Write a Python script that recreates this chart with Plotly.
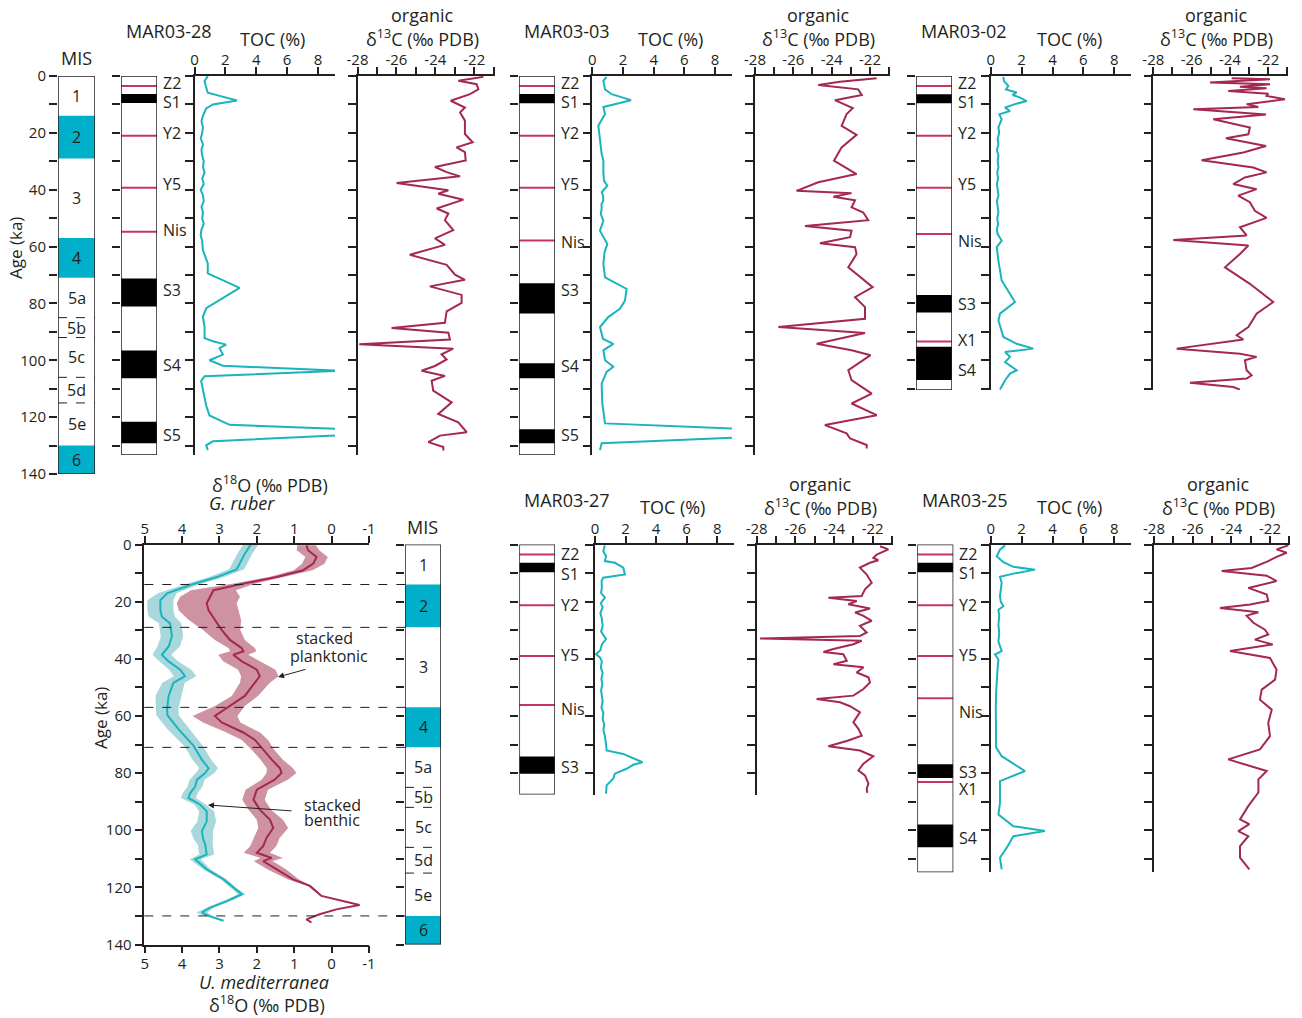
import plotly.graph_objects as go

# ======================= DATA =======================
mis_bounds = [0, 14, 29, 57, 71, 85, 92, 106, 115, 130, 140]
mis_labels = ["1", "2", "3", "4", "5a", "5b", "5c", "5d", "5e", "6"]
mis_glacial = [False, True, False, True, False, False, False, False, False, True]
mis_substage = [False, False, False, False, True, True, True, True, True, False]

benthic_age = [0, 3.2, 8.7, 11.4, 14.2, 17.1, 19.5, 23, 25.3, 27.6, 32.2, 35.7, 38.6, 40.9, 43.8, 46.1,
               48.4, 53, 57.7, 59.8, 64.7, 70.5, 75.3, 78.3, 80, 82.3, 84.7, 87, 88.7, 91, 93.4, 96.9,
               100.3, 103.3, 105, 108.5, 110.2, 113.7, 117.2, 120.1, 122.4, 124.8, 127.1, 128.8, 130, 131.7]
benthic_d18o = [2.16, 2.32, 2.54, 3.07, 3.78, 4.40, 4.58, 4.58, 4.54, 4.32, 4.27, 4.36, 4.54, 4.36, 4.05, 3.92,
                4.23, 4.36, 4.40, 4.39, 4.09, 3.69, 3.47, 3.29, 3.38, 3.60, 3.65, 3.78, 3.83, 3.52, 3.34, 3.34,
                3.47, 3.43, 3.38, 3.34, 3.65, 3.34, 2.89, 2.63, 2.40, 2.80, 3.25, 3.47, 3.29, 2.89]
benthic_err = [0.2, 0.2, 0.2, 0.2, 0.2, 0.25, 0.35, 0.35, 0.35, 0.3, 0.3, 0.3, 0.25, 0.25, 0.3, 0.3,
               0.3, 0.35, 0.3, 0.3, 0.3, 0.25, 0.25, 0.25, 0.25, 0.2, 0.2, 0.2, 0.2, 0.15, 0.2, 0.25,
               0.3, 0.25, 0.2, 0.2, 0.15, 0.1, 0.08, 0.08, 0.1, 0.1, 0.1, 0.15, 0.1, 0.05]

planktonic_age = [0.3, 2, 4.4, 6.7, 9, 11.4, 13.7, 16, 18.3, 20.6, 23, 26.4, 29.9, 33.4, 36.3, 37.4, 38.6,
                  40.9, 43.8, 46.1, 48.4, 53, 56.5, 60, 62.3, 65.8, 68.4, 71.9, 75.3, 78.3, 80, 82.3, 85.8,
                  89.3, 92.8, 96.3, 99.2, 102.7, 105.6, 107.9, 109.7, 110.8, 113.7, 117.2, 119.5, 123, 126.2,
                  127.7, 129.4, 131.2, 132.3]
planktonic_d18o = [0.67, 0.63, 0.40, 0.49, 0.76, 1.47, 2.36, 3.16, 3.25, 3.34, 3.29, 3.12, 2.94, 2.72, 2.40, 2.36,
                   2.63, 2.40, 2.0, 1.92, 2.05, 2.32, 2.72, 3.12, 2.94, 2.36, 2.05, 1.83, 1.60, 1.38, 1.34, 1.52,
                   2.0, 2.09, 1.92, 1.65, 1.56, 1.74, 1.83, 2.0, 1.60, 1.83, 1.47, 1.03, 0.58, 0.27, -0.75,
                   -0.13, 0.32, 0.67, 0.54]
planktonic_err = [0.25, 0.3, 0.3, 0.3, 0.25, 0.2, 0.3, 0.6, 0.8, 0.8, 0.8, 0.7, 0.5, 0.4, 0.35, 0.35, 0.4,
                  0.5, 0.5, 0.5, 0.4, 0.35, 0.4, 0.6, 0.5, 0.45, 0.35, 0.3, 0.3, 0.35, 0.4, 0.35, 0.3,
                  0.3, 0.3, 0.35, 0.4, 0.35, 0.35, 0.35, 0.3, 0.25, 0.25, 0.15, 0.05, 0.03, 0.03,
                  0.03, 0.03, 0.03, 0.03]

# ---- MAR03-28 ----
mar28_toc_age = [0, 1.8, 4.1, 5.9, 7.0, 8.6, 10, 11.4, 14.1, 16, 18, 20, 22, 24, 26, 28, 30, 32, 34, 36, 38, 40,
                 42, 44, 46, 48, 50, 52, 54, 56, 58, 61.2, 65.9, 69.4, 74.5, 78.8, 81.7, 84.7, 88.1, 92.2, 93.3,
                 94.5, 95.7, 98, 100, 101.9, 103.7, 105.6, 107.3, 116, 119.4, 122.7, 124.1, 126.4, 128.5, 129.9, 131.6]
mar28_toc = [0.86, 0.65, 0.76, 0.86, 1.62, 2.75, 1.19, 0.76, 0.54, 0.45, 0.55, 0.5, 0.4, 0.55, 0.45, 0.5, 0.6,
             0.55, 0.65, 0.5, 0.6, 0.4, 0.55, 0.6, 0.45, 0.55, 0.5, 0.6, 0.45, 0.4, 0.5, 0.54, 0.86, 0.86, 2.92,
             1.62, 0.76, 0.54, 0.65, 0.65, 1.19, 2.05, 1.62, 1.84, 0.97, 1.84, 9.4, 0.65, 0.43, 0.76, 0.97, 2.27,
             9.4, 9.4, 1.19, 0.76, 0.86]
mar28_d13c_age = [0.3, 0.8, 1.7, 2.9, 4.7, 6.4, 8.7, 11.1, 12.8, 15.7, 20.4, 23.3, 25.1, 26.8, 29.7, 32, 33.8,
                  35.3, 37.6, 40.2, 41.4, 43.5, 46.6, 48.4, 50.7, 54.2, 57.1, 59.4, 62.9, 66.4, 69.9, 71.7, 74.0,
                  77, 79.8, 82.8, 86.8, 88.6, 90.3, 92.7, 94.4, 95.9, 97.9, 99.7, 102, 103.7, 105.5, 107.2, 110.7,
                  114.8, 118.9, 121.8, 125.3, 126.5, 128.8, 130.5, 131.7]
mar28_d13c = [-21.53, -21.96, -22.82, -21.88, -21.79, -22.22, -23.21, -22.48, -22.73, -22.48, -22.48, -22.08,
              -22.91, -22.48, -22.44, -24.02, -23.42, -22.73, -25.99, -23.33, -23.85, -22.56, -23.93, -23.33,
              -23.51, -23.08, -24.02, -23.51, -25.31, -23.42, -22.99, -22.48, -24.28, -22.65, -22.65, -23.42,
              -23.51, -26.25, -23.33, -23.25, -27.91, -23.08, -23.68, -23.42, -24.02, -24.71, -23.51, -24.19,
              -24.11, -23.16, -23.85, -22.82, -22.39, -23.76, -24.36, -23.59, -23.59]
mar28_tephra = [("Z2", 3.5, 2.5), ("Y2", 21.0, 20.0), ("Y5", 39.3, 38.0), ("Nis", 54.8, 54.2)]
mar28_sapropel = [("S1", 6.3, 9.5, 9.1), ("S3", 71.2, 81.1, 75.3), ("S4", 96.6, 106.3, 101.7), ("S5", 121.6, 129.2, 126.3)]
mar28_bottom = 133.3

# ---- MAR03-03 ----
mar03_toc_age = [0.3, 1.7, 4.7, 6.4, 8.5, 10.9, 13.4, 17.5, 20, 22.8, 25, 27, 29.8, 32, 34, 36.8, 38.6, 40.9, 42,
                 43.9, 45, 46.8, 48.5, 50.9, 52.5, 54.4, 59.1, 62, 66.1, 70.8, 74.9, 79, 81.9, 84.8, 88.3, 90.6,
                 92.5, 94.2, 96.5, 100, 102.3, 104.1, 108.2, 115, 122.2, 124.1, 127.2, 129.2, 131.6]
mar03_toc = [0.93, 0.72, 0.83, 1.26, 2.52, 0.72, 0.83, 0.39, 0.45, 0.50, 0.55, 0.6, 0.72, 0.7, 0.72, 0.76, 0.98,
             0.61, 0.7, 0.72, 0.6, 0.61, 0.55, 0.72, 0.6, 0.50, 0.98, 0.8, 0.72, 0.83, 2.24, 2.13, 1.80, 1.04, 0.50,
             0.61, 0.7, 1.37, 0.72, 0.83, 1.37, 0.93, 0.61, 0.65, 0.83, 9.4, 9.4, 0.61, 0.50]
mar03_d13c_age = [0.8, 2, 3.2, 4.7, 6.7, 8.5, 11.3, 13.4, 17.5, 20.7, 25.1, 29.8, 34.5, 37.4, 40.4, 41.2, 42.5,
                  43.7, 46.2, 48, 50.7, 52.8, 54.4, 56.7, 58.8, 60.2, 62.6, 67.3, 74.3, 77.8, 81.3, 85.4, 88.3,
                  90.4, 94.2, 96.5, 98.2, 103.5, 107, 111.7, 115.2, 119.3, 122.8, 125.7, 127.5, 129.8, 131]
mar03_d13c = [-21.65, -23.57, -24.70, -22.61, -22.43, -23.83, -22.90, -23.22, -23.48, -22.70, -23.48, -23.88,
              -22.70, -24.70, -25.83, -22.96, -23.91, -22.78, -22.96, -22.35, -22.09, -25.39, -22.96, -23.04,
              -24.61, -22.78, -22.70, -23.13, -21.86, -22.78, -22.26, -22.26, -26.78, -22.26, -24.78, -22.96,
              -21.97, -23.13, -22.96, -21.91, -22.96, -21.65, -24.35, -23.22, -23.04, -22.17, -22.17]
mar03_tephra = [("Z2", 3.5, 2.5), ("Y2", 21.0, 20.0), ("Y5", 39.3, 38.0), ("Nis", 57.9, 58.5)]
mar03_sapropel = [("S1", 6.3, 9.6, 9.1), ("S3", 72.9, 83.5, 75.3), ("S4", 101.0, 106.3, 102.0), ("S5", 124.3, 129.2, 126.3)]
mar03_bottom = 133.3

# ---- MAR03-02 ----
mar02_toc_age = [0.3, 1.8, 3.5, 4.7, 5.8, 6.6, 7.6, 8.8, 9.9, 11.1, 12.3, 13.5, 15.2, 18.1, 20, 22, 24, 26, 28,
                 30, 32, 34, 36, 38, 40, 42, 44, 46, 48, 50, 52, 54, 55.6, 57.9, 60.2, 65, 71.9, 79.5, 83.6, 86,
                 91.8, 94.2, 95.9, 97.1, 98.8, 100.6, 103.5, 104.7, 107, 110.3]
mar02_toc = [0.82, 0.86, 1.14, 0.99, 1.68, 1.42, 1.90, 2.33, 1.57, 0.93, 1.25, 0.56, 0.71, 0.50, 0.55, 0.45, 0.5,
             0.4, 0.5, 0.45, 0.5, 0.42, 0.48, 0.4, 0.45, 0.5, 0.4, 0.45, 0.5, 0.42, 0.48, 0.4, 0.45, 0.71, 0.39,
             0.5, 0.71, 1.57, 0.60, 0.50, 0.82, 1.68, 2.76, 0.93, 1.25, 0.93, 1.68, 1.25, 0.93, 0.60]
mar02_d13c_age = [0.8, 1.1, 2.3, 2.9, 3.8, 4.3, 5.3, 6.2, 7.0, 8.2, 9.9, 10.9, 11.7, 13.5, 15.2, 18.1, 20.5, 21.9,
                  24.6, 26.9, 29.6, 32.2, 33.9, 35.7, 38, 39.8, 42.1, 44.4, 47.4, 49.9, 53.2, 56.1, 57.7, 59.6,
                  62.6, 67.3, 73.1, 79.5, 83.6, 88.3, 91.2, 92.7, 95.9, 97.7, 98.8, 100, 103.5, 105.3, 106.4,
                  107.9, 109.4, 110.3]
mar02_d13c = [-23.91, -21.91, -25.04, -21.91, -23.48, -22.09, -24.09, -22.0, -22.09, -21.13, -23.13, -22.52,
              -25.91, -22.12, -24.87, -22.96, -23.04, -24.21, -22.12, -23.30, -25.48, -22.78, -22.09, -23.22,
              -23.83, -22.61, -23.57, -22.96, -22.70, -22.09, -23.48, -23.13, -26.96, -23.04, -23.48, -24.26,
              -22.96, -21.74, -22.61, -23.04, -23.65, -23.30, -26.78, -23.48, -22.61, -23.22, -23.13, -22.87,
              -23.13, -26.09, -23.83, -23.48]
mar02_tephra = [("Z2", 3.5, 2.5), ("Y2", 21.0, 20.0), ("Y5", 39.3, 38.0), ("Nis", 55.6, 58.0), ("X1", 93.4, 92.9)]
mar02_sapropel = [("S1", 6.4, 9.6, 9.1), ("S3", 77.0, 83.2, 80.2), ("S4", 95.2, 106.9, 103.4)]
mar02_bottom = 110.45

# ---- MAR03-27 ----
mar27_toc_age = [0.3, 2.3, 4.1, 5.8, 6.4, 8.1, 10.5, 11.6, 12.8, 15, 17, 18.6, 20.5, 22, 24, 26, 28.5, 30.5,
                 33.1, 35, 37, 38.4, 39.5, 41, 43, 45, 47, 49, 51, 53, 55, 57, 59, 61, 63, 65, 67, 69.8, 72.1,
                 73.3, 76.2, 77.1, 78.5, 80.2, 81.9, 84.3, 87.2]
mar27_toc = [0.65, 0.54, 0.72, 0.65, 1.30, 1.85, 1.96, 0.54, 0.43, 0.45, 0.4, 0.65, 0.38, 0.5, 0.35, 0.45, 0.5,
             0.4, 0.72, 0.45, 0.35, 0.07, 0.33, 0.45, 0.38, 0.5, 0.42, 0.48, 0.4, 0.45, 0.5, 0.42, 0.55, 0.5,
             0.6, 0.55, 0.65, 0.72, 0.76, 1.85, 3.11, 2.5, 2.07, 1.30, 1.20, 0.76, 0.72]
mar27_d13c_age = [0.6, 1.7, 3.5, 4.7, 5.5, 6.4, 8.1, 10.5, 13.4, 15.7, 18, 18.6, 19.8, 20.9, 22.4, 23.8, 25,
                  26.7, 28.5, 30.8, 32, 32.9, 33.7, 34.9, 36.6, 37.6, 38.4, 40.7, 41.9, 43, 44.8, 46.5, 48.3,
                  50.6, 52.9, 54.1, 55.2, 56.6, 58.7, 62.2, 64.5, 66.9, 68.6, 70.6, 72.1, 74.1, 76.7, 79.1, 80.8,
                  83.7, 85.5, 86.9]
mar27_d13c = [-21.62, -21.19, -21.79, -21.97, -21.71, -22.14, -22.66, -22.31, -22.05, -22.40, -22.57, -24.29,
              -22.83, -23.26, -22.14, -22.91, -22.48, -22.05, -22.66, -22.31, -22.66, -27.83, -22.57, -23.0,
              -24.03, -24.55, -23.52, -23.34, -24.03, -22.48, -22.83, -22.22, -22.14, -22.48, -23.0, -24.90,
              -23.69, -23.17, -22.66, -23.0, -22.74, -22.57, -23.26, -24.29, -22.66, -21.97, -22.48, -22.74,
              -22.40, -22.22, -22.31, -22.28]
mar27_tephra = [("Z2", 3.5, 3.2), ("Y2", 21.3, 21.0), ("Y5", 39.0, 38.5), ("Nis", 56.2, 57.4)]
mar27_sapropel = [("S1", 6.4, 9.7, 10.2), ("S3", 74.2, 80.2, 78.0)]
mar27_bottom = 87.5

# ---- MAR03-25 ----
mar25_toc_age = [0.3, 1.8, 4.1, 6.2, 7.8, 8.8, 10.2, 11.3, 13.4, 16, 18.1, 20, 21.6, 22.8, 25, 28, 31, 34, 37.3,
                 38.5, 40.3, 43, 47.3, 52, 57, 62, 67, 71, 74.1, 79.3, 82.8, 90.4, 94.5, 98.6, 100.3, 102.1,
                 106.2, 109.6, 113.7]
mar25_toc = [0.93, 0.60, 0.39, 0.82, 1.47, 2.87, 1.47, 0.60, 0.71, 0.65, 0.60, 0.65, 0.82, 0.50, 0.55, 0.5, 0.55,
             0.5, 0.71, 0.28, 0.50, 0.45, 0.39, 0.35, 0.33, 0.35, 0.33, 0.35, 0.71, 2.22, 0.60, 0.60, 0.50, 1.47,
             3.51, 1.47, 1.03, 0.60, 0.71]
mar25_d13c_age = [0.3, 1.7, 2.9, 4.3, 5.8, 8.2, 9.3, 10.9, 12.8, 15.2, 17.5, 19.8, 21, 22.2, 23.7, 24.9, 27.4,
                  29.8, 31.5, 33.3, 35, 37.3, 39.7, 43.8, 47.3, 50.8, 54.3, 57.8, 62.4, 67.1, 71.7, 75.2, 79.3,
                  82.2, 86.8, 91.5, 96.2, 97.9, 100.3, 102.1, 105.6, 109.6, 113.7]
mar25_d13c = [-21.05, -21.66, -21.14, -21.66, -22.09, -22.95, -24.50, -22.17, -21.66, -23.12, -22.17, -22.09,
              -23.03, -24.59, -22.60, -23.21, -22.86, -22.26, -22.09, -22.78, -21.86, -24.07, -22.0, -21.66,
              -21.74, -22.43, -22.52, -21.91, -22.09, -22.0, -22.52, -24.16, -22.17, -22.60, -22.60, -23.12,
              -23.55, -23.07, -23.64, -23.12, -23.55, -23.55, -23.07]
mar25_tephra = [("Z2", 3.5, 3.2), ("Y2", 21.3, 21.0), ("Y5", 39.0, 38.5), ("Nis", 53.8, 58.5), ("X1", 83.1, 85.4)]
mar25_sapropel = [("S1", 6.4, 9.7, 9.8), ("S3", 76.9, 81.7, 79.5), ("S4", 98.0, 106.0, 102.6)]
mar25_bottom = 114.7

toc_ticks = [0, 2, 4, 6, 8]
d13c_ticks = [-28, -26, -24, -22]
d13c_minor = [-27, -25, -23, -21]
d18o_ticks = [5, 4, 3, 2, 1, 0, -1]

# ======================= STYLE / LAYOUT =======================
W, H = 1302, 1018
FONT = "Open Sans"
INK = "#231F20"
TEAL = "#1AB4BC"
CRIMSON = "#A4284F"
MIS_FILL = "#00B0CA"
TEPHRA = "#C4365F"
BAND_TEAL = "#A9D8DC"
BAND_RED = "#CF92A2"

layout = dict(width=W, height=H, margin=dict(l=0, r=0, t=0, b=0, autoexpand=False), showlegend=False,
              paper_bgcolor="white", plot_bgcolor="rgba(0,0,0,0)", font=dict(family=FONT, color=INK))
shapes, annotations, traces = [], [], []
count = [0]


def base_axis():
    return dict(showgrid=False, zeroline=False, showline=True, linecolor=INK, linewidth=1.5,
                ticks="outside", tickcolor=INK, tickwidth=1.5, ticklen=7, automargin=False,
                tickfont=dict(family=FONT, size=15, color=INK), fixedrange=True)


def add_panel(xpx, ypx, xrange, yrange, xopts, yopts):
    count[0] += 1
    i = count[0]
    s = "" if i == 1 else str(i)
    xa = base_axis()
    xa.update(domain=[xpx[0] / W, xpx[1] / W], range=xrange, anchor="y" + s)
    xa.update(xopts)
    ya = base_axis()
    ya.update(domain=[1 - ypx[1] / H, 1 - ypx[0] / H], range=yrange, anchor="x" + s)
    ya.update(yopts)
    layout["xaxis" + s] = xa
    layout["yaxis" + s] = ya
    return "x" + s, "y" + s


def text(x, y, t, size=18, italic=False, angle=0, xanchor="center"):
    if italic:
        t = "<i>" + t + "</i>"
    annotations.append(dict(x=x / W, y=1 - y / H, xref="paper", yref="paper", text=t, showarrow=False,
                            font=dict(family=FONT, size=size, color=INK), xanchor=xanchor, yanchor="middle",
                            textangle=angle))


age_hidden = dict(tickmode="linear", tick0=0, dtick=10, showticklabels=False, ticklen=8)
age_labeled = dict(tickmode="linear", tick0=0, dtick=20, ticklen=8,
                   minor=dict(dtick=10, tick0=0, ticks="outside", ticklen=8, tickcolor=INK, tickwidth=1.5))
top_x = dict(side="top", ticklabelstandoff=-4)


def mis_column(xpx, y0, scale, labeled):
    ypx = (y0, y0 + 140 * scale)
    yopts = dict(age_labeled, showline=False) if labeled else dict(age_hidden, showline=False)
    xr, yr = add_panel(xpx, ypx, [0, 1], [140, 0], dict(visible=False), yopts)
    for i, lab in enumerate(mis_labels):
        a0, a1 = mis_bounds[i], mis_bounds[i + 1]
        if mis_glacial[i]:
            shapes.append(dict(type="rect", xref=xr, yref=yr, x0=0, x1=1, y0=a0, y1=a1,
                               fillcolor=MIS_FILL, line=dict(width=0), layer="below"))
        annotations.append(dict(x=0.5, y=(a0 + a1) / 2, xref=xr, yref=yr, text=lab, showarrow=False,
                                font=dict(family=FONT, size=16, color=INK)))
        if i > 0 and (mis_substage[i] and mis_substage[i - 1]):
            shapes.append(dict(type="line", xref=xr, yref=yr, x0=0, x1=1, y0=a0, y1=a0,
                               line=dict(color=INK, width=1, dash="dash")))
    shapes.append(dict(type="rect", xref=xr, yref=yr, x0=0, x1=1, y0=0, y1=140,
                       line=dict(color=INK, width=1.5)))
    return xr, yr


def core(name, xs, y0, scale, bottom, toc_age, toc, d13c_age, d13c, tephra, sapropel):
    col_x, toc_x, c_x = xs
    ypx = (y0, y0 + bottom * scale)
    # lithology column
    xr, yr = add_panel(col_x, ypx, [0, 1], [bottom, 0], dict(visible=False), dict(age_hidden, showline=False))
    for lab, top, bot, la in sapropel:
        shapes.append(dict(type="rect", xref=xr, yref=yr, x0=0, x1=1, y0=top, y1=bot,
                           fillcolor="black", line=dict(width=0)))
        text(col_x[1] + 4, y0 + la * scale, lab, size=16, xanchor="left")
    for lab, a, la in tephra:
        shapes.append(dict(type="line", xref=xr, yref=yr, x0=0, x1=1, y0=a, y1=a,
                           line=dict(color=TEPHRA, width=2)))
        text(col_x[1] + 4, y0 + la * scale, lab, size=16, xanchor="left")
    shapes.append(dict(type="rect", xref=xr, yref=yr, x0=0, x1=1, y0=0, y1=bottom,
                       line=dict(color=INK, width=1.5)))
    # TOC
    xr, yr = add_panel(toc_x, ypx, [0, 9.1], [bottom, 0],
                       dict(top_x, tickmode="array", tickvals=toc_ticks,
                            ticktext=[str(v) for v in toc_ticks]), age_hidden)
    traces.append(go.Scatter(x=toc, y=toc_age, xaxis=xr, yaxis=yr, mode="lines",
                             line=dict(color=TEAL, width=2), hoverinfo="skip"))
    # d13C
    xr, yr = add_panel(c_x, ypx, [-28, -20.95], [bottom, 0],
                       dict(top_x, tickmode="array", tickvals=d13c_ticks,
                            ticktext=[str(v) for v in d13c_ticks],
                            minor=dict(tickmode="array", tickvals=d13c_minor, ticks="outside", ticklen=7,
                                       tickcolor=INK, tickwidth=1.5)), age_hidden)
    traces.append(go.Scatter(x=d13c, y=d13c_age, xaxis=xr, yaxis=yr, mode="lines",
                             line=dict(color=CRIMSON, width=2), hoverinfo="skip"))
    # titles
    text((col_x[0] + col_x[1]) / 2 + 30, y0 - 45, name, size=18)
    text((toc_x[0] + toc_x[1]) / 2 + 8, y0 - 37, "TOC (%)", size=18)
    cx = (c_x[0] + c_x[1]) / 2 - 4
    text(cx, y0 - 61, "organic", size=18)
    text(cx, y0 - 38, "δ<sup>13</sup>C (‰ PDB)", size=18)


# ---------------- top row ----------------
TOP0, TSC = 76, 398 / 140
mis_column((58, 95), TOP0, TSC, True)
text(76, 58, "MIS", size=18)
text(15, 248, "Age (ka)", size=17, angle=-90)

core("MAR03-28", ((121, 157), (194.5, 335), (357.5, 494.7)), TOP0, TSC, mar28_bottom,
     mar28_toc_age, mar28_toc, mar28_d13c_age, mar28_d13c, mar28_tephra, mar28_sapropel)
core("MAR03-03", ((519, 555), (592.3, 731.9), (755, 890.1)), TOP0, TSC, mar03_bottom,
     mar03_toc_age, mar03_toc, mar03_d13c_age, mar03_d13c, mar03_tephra, mar03_sapropel)
core("MAR03-02", ((916, 952), (990.7, 1131.3), (1153.3, 1288.4)), TOP0, TSC, mar02_bottom,
     mar02_toc_age, mar02_toc, mar02_d13c_age, mar02_d13c, mar02_tephra, mar02_sapropel)

# ---------------- bottom row ----------------
BOT0, BSC = 544.5, 400 / 140
core("MAR03-27", ((519.3, 555), (595, 734), (756.7, 893)), BOT0, BSC, mar27_bottom,
     mar27_toc_age, mar27_toc, mar27_d13c_age, mar27_d13c, mar27_tephra, mar27_sapropel)
core("MAR03-25", ((917.3, 953.3), (990.7, 1131.3), (1154, 1290.3)), BOT0, BSC, mar25_bottom,
     mar25_toc_age, mar25_toc, mar25_d13c_age, mar25_d13c, mar25_tephra, mar25_sapropel)

# d18O panel
d18o_x = dict(tickmode="array", tickvals=d18o_ticks, ticktext=[str(v) for v in d18o_ticks])
xr, yr = add_panel((144.3, 369.3), (BOT0, BOT0 + 140 * BSC), [5.01, -1.01], [140, 0],
                   dict(d18o_x, **top_x), age_labeled)
bottom_axis = base_axis()
bottom_axis.update(d18o_x, domain=[144.3 / W, 369.3 / W], range=[5.01, -1.01],
                   overlaying=xr, anchor=yr, side="bottom", ticklabelstandoff=-2)
layout["xaxis99"] = bottom_axis
traces.append(go.Scatter(x=[None], y=[None], xaxis="x99", yaxis=yr, mode="lines", hoverinfo="skip"))

traces.append(go.Scatter(x=[v + e for v, e in zip(benthic_d18o, benthic_err)] +
                         [v - e for v, e in zip(benthic_d18o, benthic_err)][::-1],
                         y=benthic_age + benthic_age[::-1], xaxis=xr, yaxis=yr, mode="lines",
                         fill="toself", fillcolor=BAND_TEAL, line=dict(width=0), hoverinfo="skip"))
traces.append(go.Scatter(x=[v + e for v, e in zip(planktonic_d18o, planktonic_err)] +
                         [v - e for v, e in zip(planktonic_d18o, planktonic_err)][::-1],
                         y=planktonic_age + planktonic_age[::-1], xaxis=xr, yaxis=yr, mode="lines",
                         fill="toself", fillcolor=BAND_RED, line=dict(width=0), hoverinfo="skip"))
traces.append(go.Scatter(x=benthic_d18o, y=benthic_age, xaxis=xr, yaxis=yr, mode="lines",
                         line=dict(color=TEAL, width=2), hoverinfo="skip"))
traces.append(go.Scatter(x=planktonic_d18o, y=planktonic_age, xaxis=xr, yaxis=yr, mode="lines",
                         line=dict(color=CRIMSON, width=2), hoverinfo="skip"))

# MIS boundary dashed lines across d18O panel
for i in range(1, len(mis_bounds) - 1):
    if mis_glacial[i] or mis_glacial[i - 1]:
        shapes.append(dict(type="line", xref="paper", yref=yr, x0=144.3 / W, x1=405 / W,
                           y0=mis_bounds[i], y1=mis_bounds[i], line=dict(color=INK, width=1, dash="dash")))

text(270, 484, "δ<sup>18</sup>O (‰ PDB)", size=18)
text(242, 503, "G. ruber", size=18, italic=True)
text(264, 982, "U. mediterranea", size=18, italic=True)
text(267, 1004, "δ<sup>18</sup>O (‰ PDB)", size=18)
text(100, 718, "Age (ka)", size=17, angle=-90)
text(324, 638, "stacked", size=16)
text(329, 656, "planktonic", size=16)
text(332, 805, "stacked", size=16)
text(332, 820, "benthic", size=16)
for (tx, ty), (hx, hy) in [((307, 669), (278, 677)), ((293, 811), (208, 805))]:
    annotations.append(dict(x=hx / W, y=1 - hy / H, xref="paper", yref="paper", text="", showarrow=True,
                            ax=tx - hx, ay=ty - hy, axref="pixel", ayref="pixel", arrowhead=2,
                            arrowsize=1.2, arrowwidth=1, arrowcolor=INK))

mis_column((405, 441), BOT0, BSC, False)
text(422, 527, "MIS", size=18)

layout["shapes"] = shapes
layout["annotations"] = annotations
fig = go.Figure(data=traces, layout=layout)
fig.write_html("out.html")
